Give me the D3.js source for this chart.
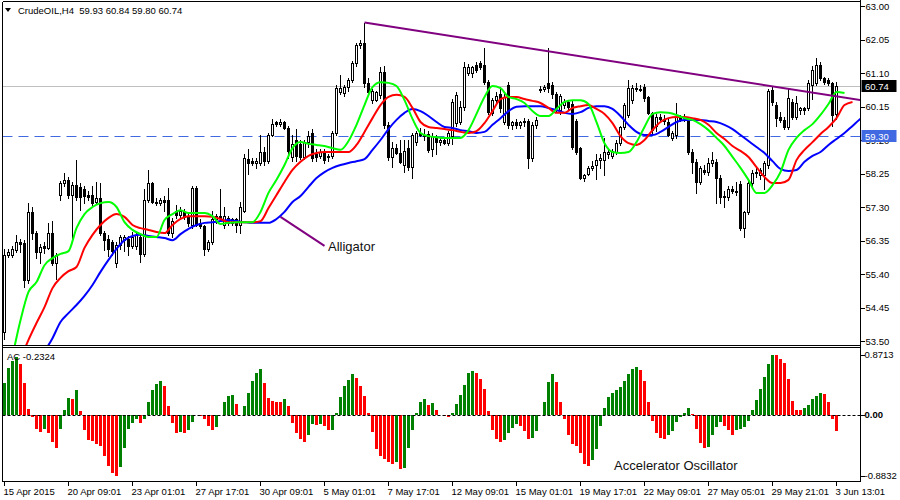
<!DOCTYPE html>
<html><head><meta charset="utf-8">
<script src="https://cdn.jsdelivr.net/npm/d3@7"></script>
<style>
html,body{margin:0;padding:0;background:#fff;}
svg{display:block;font-family:"Liberation Sans",Arial,sans-serif;}
text{white-space:pre;}
</style></head><body>
<svg id="c" width="900" height="500"></svg>
<script>
// ---------- DATA ----------
const headerText = "CrudeOIL,H4  59.93 60.84 59.80 60.74";
const openP = [53.75,55.95,55.95,56.08,56.30,56.28,55.23,57.16,56.56,56.02,56.20,56.14,56.56,55.71,57.64,57.98,58.07,57.64,57.92,57.87,
57.80,57.64,57.64,57.45,57.55,56.56,56.40,56.30,55.71,56.22,56.36,56.40,56.20,56.20,56.45,55.97,57.50,57.98,57.45,57.40,
57.50,57.50,56.56,57.20,57.07,57.16,57.02,56.80,57.85,56.85,56.75,56.10,56.30,56.95,57.05,56.80,57.00,56.85,56.95,56.80,
57.20,58.65,58.60,58.55,58.55,58.85,58.60,59.35,59.70,59.65,59.70,59.55,58.72,59.20,59.10,58.72,59.14,59.40,58.80,58.75,
58.86,58.72,58.75,59.40,60.55,60.53,60.70,60.90,61.38,61.89,61.95,60.82,60.33,60.33,60.48,61.13,59.63,58.72,58.97,58.83,
58.50,58.97,58.43,59.14,59.40,59.35,59.37,58.95,59.25,59.15,59.20,59.12,59.30,59.68,59.71,60.14,61.10,61.10,61.33,61.38,
61.33,60.84,59.97,60.33,60.50,59.71,60.76,59.63,59.70,59.63,59.70,59.75,58.69,59.63,60.62,60.65,60.82,60.76,60.50,60.05,
60.20,60.28,60.22,59.75,58.97,58.12,58.25,58.40,58.50,58.62,58.63,58.80,58.75,58.86,59.11,59.57,59.91,60.33,60.67,60.65,
60.70,60.42,59.97,59.60,59.85,59.80,59.71,59.26,59.34,59.85,59.82,59.75,58.86,58.58,58.01,58.35,58.30,58.55,58.58,58.12,
57.58,57.58,57.80,57.75,57.95,56.70,57.16,57.98,58.26,58.20,58.20,58.49,60.62,60.19,59.85,59.77,59.57,60.28,59.85,60.05,
60.10,60.11,60.75,60.82,61.33,60.96,60.90,60.82,59.93];
const highP = [56.10,56.10,56.20,56.50,56.38,56.35,57.40,57.30,56.62,56.25,56.30,56.85,56.90,56.00,58.05,58.27,58.15,58.00,58.62,57.98,
57.90,57.75,57.90,58.00,57.98,56.62,56.50,56.36,56.30,56.50,56.50,56.48,56.60,56.55,56.52,57.80,58.35,58.02,57.55,57.55,
57.60,57.85,57.00,57.35,57.30,57.25,57.10,57.90,57.90,56.95,56.80,56.35,57.20,57.10,57.80,57.30,57.05,57.00,57.00,57.45,
58.80,58.95,58.70,58.70,59.35,59.00,59.40,59.80,59.75,59.80,59.75,59.60,59.35,59.50,59.20,59.20,59.45,59.50,58.95,58.95,
58.95,58.80,59.45,60.76,61.04,60.75,60.95,61.45,61.95,62.05,62.53,60.96,60.65,60.60,61.27,61.30,59.70,59.14,59.10,59.20,
59.20,59.20,59.40,59.45,59.55,59.50,59.45,59.40,59.35,59.25,59.28,59.45,60.35,60.55,60.30,61.40,61.35,61.30,61.40,61.45,
61.81,60.90,60.40,60.55,60.70,60.50,60.85,59.75,59.80,59.75,59.82,59.80,59.70,59.85,60.72,60.75,61.81,60.85,60.55,60.50,
60.35,60.30,60.30,59.80,59.00,58.25,58.45,58.60,58.80,58.80,59.25,58.95,58.95,59.20,59.60,60.25,60.90,60.75,60.82,60.75,
60.80,60.45,60.00,59.95,59.95,59.90,59.80,59.45,60.25,59.90,59.95,59.85,58.95,58.65,58.45,58.50,58.70,58.85,58.65,58.20,
57.75,57.90,57.90,58.00,58.05,57.20,58.05,58.35,58.45,58.40,58.60,60.65,60.70,60.28,60.00,59.85,60.65,60.35,60.45,60.15,
60.15,60.90,61.30,61.53,61.40,61.00,60.95,60.85,60.84];
const lowP = [53.55,55.88,55.88,56.02,56.02,55.03,55.15,56.40,55.85,55.70,56.00,56.10,55.65,55.25,57.50,57.90,57.55,56.40,57.50,57.21,
57.40,57.50,57.35,57.40,56.50,56.08,55.90,55.95,55.60,56.10,56.05,55.95,56.15,56.10,55.75,55.92,57.45,57.40,57.35,57.35,
57.20,56.50,56.45,57.00,56.95,56.95,56.75,56.70,56.75,56.70,55.94,56.05,56.25,56.85,56.90,56.70,56.80,56.80,56.60,56.55,
57.15,58.25,58.50,58.40,58.50,58.50,58.55,59.30,59.60,59.60,59.50,58.70,58.60,58.60,58.65,58.65,59.00,58.60,58.60,58.70,
58.55,58.60,58.70,59.35,60.50,60.45,60.60,60.85,61.30,61.80,60.70,60.50,60.25,60.30,60.40,59.55,58.63,58.43,58.80,58.55,
58.30,58.35,58.12,59.05,59.30,59.20,58.85,58.75,58.80,59.05,59.08,59.05,59.10,59.60,59.65,60.05,61.05,61.00,61.12,61.20,
60.78,59.95,59.90,60.25,60.00,59.65,59.55,59.50,59.55,59.55,59.60,58.41,58.60,59.55,60.55,60.58,60.55,60.40,60.00,59.95,
60.10,60.05,58.95,58.80,58.10,58.05,58.20,58.35,58.10,58.40,58.20,58.70,58.70,58.80,59.05,59.50,59.85,60.25,60.60,60.58,
60.30,59.95,59.40,59.45,59.75,59.65,59.30,59.20,59.25,59.75,59.75,58.80,58.26,57.70,57.95,58.25,58.20,58.45,57.41,57.41,
57.30,57.50,57.70,57.65,56.65,56.45,57.10,57.90,58.15,58.10,57.80,58.40,60.20,59.60,59.70,59.50,59.50,59.80,59.80,59.95,
59.95,60.05,60.35,60.75,60.90,60.80,60.75,59.60,59.80];
const closeP = [55.95,56.02,56.10,56.30,56.25,55.23,57.16,56.56,56.02,56.17,56.14,56.56,55.71,55.94,57.98,58.07,57.64,57.92,57.58,57.58,
57.62,57.58,57.41,57.55,56.56,56.36,56.11,56.05,56.22,56.45,56.45,56.20,56.45,56.50,55.97,57.50,57.98,57.45,57.40,57.50,
57.45,56.56,56.90,57.07,57.20,57.02,56.85,57.85,56.80,56.75,56.10,56.30,56.95,57.05,57.00,57.05,56.85,56.95,56.80,57.30,
58.70,58.55,58.55,58.60,58.85,58.60,59.35,59.65,59.65,59.70,59.55,58.90,59.10,58.75,58.72,59.14,59.30,58.69,58.72,58.86,
58.63,58.75,59.40,60.67,60.67,60.70,60.90,61.38,61.89,61.95,60.82,60.56,60.60,60.55,61.13,59.63,58.72,58.97,58.83,58.58,
58.90,58.43,59.34,59.40,59.35,59.30,58.92,59.30,59.15,59.20,59.12,59.40,60.28,60.48,60.14,61.27,61.27,61.27,61.18,61.27,
60.84,59.99,60.33,60.45,60.10,60.42,59.63,59.70,59.63,59.70,59.75,58.69,59.63,59.77,60.65,60.70,60.67,60.50,60.10,60.45,
60.28,60.15,59.00,58.85,58.12,58.20,58.40,58.45,58.62,58.70,58.86,58.86,58.90,59.11,59.57,60.19,60.67,60.67,60.65,60.62,
60.39,59.97,59.48,59.85,59.80,59.75,59.34,59.40,59.85,59.80,59.85,58.86,58.58,58.01,58.41,58.30,58.55,58.62,58.12,57.58,
57.62,57.80,57.75,57.72,56.70,57.16,57.98,58.26,58.30,58.35,58.55,60.60,60.28,59.82,59.77,59.57,60.39,59.85,60.25,60.10,
60.05,60.82,61.18,61.33,60.96,60.84,60.82,59.91,60.74];

// Alligator (sampled every 2 bars, starting at bar 0; lines are shifted forward past the last bar)
const jawBlue = [51.12,51.49,51.88,52.31,52.73,53.19,53.58,54.04,54.29,54.52,
54.78,55.09,55.46,55.80,56.11,56.36,56.48,56.51,56.48,56.45,
56.42,56.36,56.53,56.68,56.79,56.85,56.87,56.90,56.93,56.90,
56.87,56.85,56.85,56.85,56.96,57.16,57.44,57.61,57.87,58.12,
58.29,58.41,58.49,58.55,58.60,58.66,58.92,59.20,59.51,59.77,
59.97,60.08,60.02,59.88,59.71,59.57,59.54,59.48,59.45,59.40,
59.43,59.63,59.82,60.02,60.14,60.16,60.16,60.16,60.11,60.05,
59.97,59.94,59.99,60.11,60.16,60.16,60.08,59.88,59.63,59.43,
59.34,59.34,59.43,59.57,59.71,59.77,59.77,59.77,59.74,59.71,
59.63,59.51,59.34,59.17,59.00,58.83,58.60,58.38,58.32,58.35,
58.58,58.75,58.86,59.06,59.23,59.40,59.60,59.80,59.97];
const teethRed = [51.54,52.25,52.96,53.53,54.01,54.46,55.00,55.29,55.48,55.60,
56.14,56.51,56.79,56.99,57.10,57.02,56.79,56.70,56.65,56.59,
56.56,56.79,56.96,57.04,57.04,57.04,57.02,56.96,56.87,56.87,
56.87,56.87,56.90,57.27,57.64,58.01,58.35,58.58,58.75,58.83,
58.86,58.86,58.86,58.86,59.06,59.43,59.82,60.19,60.42,60.48,
60.42,60.11,59.71,59.57,59.54,59.51,59.48,59.43,59.40,59.45,
59.68,60.02,60.36,60.42,60.42,60.36,60.31,60.25,60.11,59.97,
59.97,60.11,60.16,60.19,60.08,59.94,59.68,59.31,59.11,59.06,
59.20,59.48,59.71,59.82,59.85,59.85,59.82,59.77,59.63,59.40,
59.23,59.03,58.89,58.72,58.43,58.15,57.98,57.98,58.07,58.63,
58.92,59.14,59.37,59.57,59.82,60.19,60.28];
const lipsGreen = [52.25,53.10,54.09,54.89,55.17,55.65,55.85,55.97,56.05,56.70,
57.10,57.30,57.41,57.44,57.30,56.87,56.65,56.53,56.45,56.45,
56.93,57.10,57.21,57.13,57.13,57.13,57.04,56.82,56.85,56.87,
56.87,56.87,57.16,57.70,58.07,58.49,58.97,59.14,59.09,59.06,
59.03,58.97,58.92,59.17,59.63,60.19,60.70,60.84,60.82,60.73,
60.33,59.80,59.40,59.31,59.28,59.26,59.26,59.26,59.48,59.94,
60.42,60.73,60.67,60.42,60.36,60.25,60.02,59.88,59.88,60.08,
60.28,60.33,60.33,60.22,59.71,59.11,58.86,58.83,58.86,59.14,
59.57,59.94,59.99,59.97,59.91,59.82,59.77,59.65,59.48,59.26,
59.03,58.72,58.41,58.07,57.70,57.70,57.92,58.29,58.92,59.26,
59.48,59.65,59.91,60.22,60.56,60.53];

// Accelerator Oscillator, one value per bar
const acValues = [0.456,0.67,0.77,0.84,0.74,0.456,0.08,-0.04,-0.21,-0.25,
-0.21,-0.26,-0.40,-0.48,-0.21,0.07,0.24,0.23,0.36,0.05,
-0.23,-0.37,-0.38,-0.43,-0.45,-0.60,-0.74,-0.84,-0.8832,-0.76,
-0.48,-0.21,-0.12,-0.06,-0.12,-0.07,0.18,0.35,0.44,0.49,
0.42,0.13,-0.12,-0.26,-0.25,-0.27,-0.23,-0.11,-0.01,-0.02,
-0.07,-0.17,-0.23,-0.18,0.00,0.18,0.27,0.28,0.16,0.00,
0.13,0.32,0.48,0.61,0.66,0.456,0.24,0.19,0.185,0.18,
0.22,0.13,-0.12,-0.26,-0.36,-0.40,-0.30,-0.14,-0.15,-0.14,
-0.16,-0.23,-0.22,0.03,0.26,0.41,0.50,0.59,0.53,0.41,
0.27,0.02,-0.25,-0.50,-0.60,-0.65,-0.69,-0.71,-0.69,-0.79,
-0.77,-0.48,-0.22,0.03,0.18,0.22,0.14,0.17,0.06,-0.01,
-0.02,-0.04,0.03,0.15,0.29,0.43,0.61,0.63,0.61,0.51,
0.37,0.05,-0.22,-0.35,-0.40,-0.37,-0.27,-0.19,-0.14,-0.16,
-0.24,-0.35,-0.34,-0.24,-0.01,0.18,0.47,0.59,0.47,0.18,
-0.06,-0.29,-0.42,-0.46,-0.55,-0.71,-0.74,-0.66,-0.50,-0.16,
0.10,0.25,0.32,0.36,0.40,0.48,0.59,0.66,0.69,0.64,
0.49,0.18,-0.10,-0.27,-0.34,-0.35,-0.30,-0.24,-0.11,-0.03,
0.03,0.09,0.01,-0.21,-0.41,-0.49,-0.47,-0.29,-0.18,-0.11,
-0.16,-0.23,-0.30,-0.22,-0.21,-0.18,-0.10,0.06,0.21,0.37,
0.54,0.73,0.8713,0.86,0.80,0.75,0.51,0.20,0.07,0.06,
0.10,0.14,0.22,0.27,0.32,0.30,0.18,-0.06,-0.2324];
const acLabel = "AC -0.2324";
const acScaleLabels = [0.8713, 0.00, -0.8832];

const priceTicks = [63.00,62.05,61.10,60.15,59.20,58.25,57.30,56.35,55.40,54.45,53.50];
const timeTickBars = [0,16,32,48,64,80,96,112,128,144,160,176,192,208];
const timeTickLabels = ["15 Apr 2015","20 Apr 09:01","23 Apr 01:01","27 Apr 17:01","30 Apr 09:01","5 May 01:01","7 May 17:01","12 May 09:01","15 May 01:01","19 May 17:01","22 May 09:01","27 May 05:01","29 May 21:01","3 Jun 13:01"];
const bidPrice = 60.74;
const levelPrice = 59.30;
const trendBars = [90, 208];
const trendPrices = [62.53, 60.44];
const noteBars = [69, 80];
const notePrices = [57.02, 56.20];
const noteText = "Alligator";
const acNoteText = "Accelerator Oscillator";
const acNoteBar = 152.4, acNoteValue = -0.80;

// ---------- LAYOUT ----------
const svg = d3.select("#c");
const W = 900, H = 500;
const L = 2.5, R = 860.5, mainTop = 1.5, mainBot = 345.5, acTop = 347.5, acBot = 481.5;
const x = d3.scaleLinear().domain([0, 208]).range([4.5, 836.5]);
const y = d3.scaleLinear().domain([53.5, 63]).range([341, 6]);
const ya = d3.scaleLinear().domain([-0.8832, 0.8713]).range([475.5, 354.5]);
const BLACK = "#000";

svg.append("rect").attr("width", W).attr("height", H).attr("fill", "#fff");

const defs = svg.append("defs");
defs.append("clipPath").attr("id", "clipMain").append("rect")
  .attr("x", 3).attr("y", 2).attr("width", R - 3.5).attr("height", mainBot - 2.5);
defs.append("clipPath").attr("id", "clipAc").append("rect")
  .attr("x", 3).attr("y", acTop + 0.5).attr("width", R - 3.5).attr("height", acBot - acTop - 1);

const main = svg.append("g").attr("clip-path", "url(#clipMain)");

// bid line and level line
main.append("line").attr("x1", L).attr("x2", R)
  .attr("y1", Math.round(y(bidPrice)) + 0.5).attr("y2", Math.round(y(bidPrice)) + 0.5)
  .attr("stroke", "#c0c0c0").attr("stroke-width", 1);
main.append("line").attr("x1", L).attr("x2", R)
  .attr("y1", Math.round(y(levelPrice)) + 0.5).attr("y2", Math.round(y(levelPrice)) + 0.5)
  .attr("stroke", "#4169E1").attr("stroke-width", 1).attr("stroke-dasharray", "10,6");

// candles
const bars = d3.range(openP.length).map(i => ({i, o: openP[i], h: highP[i], l: lowP[i], c: closeP[i]}));
const cg = main.append("g").attr("shape-rendering", "crispEdges");
cg.selectAll("line.wick").data(bars).join("line")
  .attr("x1", d => x(d.i)).attr("x2", d => x(d.i))
  .attr("y1", d => Math.round(y(d.h))).attr("y2", d => Math.round(y(d.l)) + 1)
  .attr("stroke", BLACK).attr("stroke-width", 1);
cg.selectAll("rect.body").data(bars).join("rect")
  .attr("x", d => d.c >= d.o ? x(d.i) - 1 : x(d.i) - 1.5)
  .attr("width", d => d.c >= d.o ? 2 : 3)
  .attr("y", d => {
    const t = Math.round(y(Math.max(d.o, d.c)));
    return d.c >= d.o ? t + 0.5 : t;
  })
  .attr("height", d => {
    const t = Math.round(y(Math.max(d.o, d.c))), b = Math.round(y(Math.min(d.o, d.c)));
    return d.c >= d.o ? Math.max(b - t, 1) : Math.max(b - t + 1, 1);
  })
  .attr("fill", d => d.c >= d.o ? "#fff" : BLACK)
  .attr("stroke", d => d.c >= d.o ? BLACK : "none")
  .attr("stroke-width", 1);

// alligator
function drawLine(vals, color) {
  const line = d3.line().x((d, k) => x(k * 2)).y(d => y(d)).curve(d3.curveMonotoneX);
  main.append("path").attr("d", line(vals)).attr("fill", "none")
    .attr("stroke", color).attr("stroke-width", 2).attr("stroke-linejoin", "round");
}
drawLine(jawBlue, "#0000ff");
drawLine(teethRed, "#ff0000");
drawLine(lipsGreen, "#00ff00");

// trend line (ray to the right edge)
const slope = (trendPrices[1] - trendPrices[0]) / (trendBars[1] - trendBars[0]);
const endBar = x.invert(R);
main.append("line")
  .attr("x1", x(trendBars[0])).attr("y1", y(trendPrices[0]))
  .attr("x2", R).attr("y2", y(trendPrices[0] + slope * (endBar - trendBars[0])))
  .attr("stroke", "#800080").attr("stroke-width", 2);

// alligator note
main.append("line")
  .attr("x1", x(noteBars[0])).attr("y1", y(notePrices[0]))
  .attr("x2", x(noteBars[1])).attr("y2", y(notePrices[1]))
  .attr("stroke", "#800080").attr("stroke-width", 2);
svg.append("text").attr("x", x(noteBars[1]) + 3.5).attr("y", y(notePrices[1]) + 5.5)
  .attr("font-size", 13).attr("fill", "#111").text(noteText);

// header
svg.append("path").attr("d", "M5,8 L11,8 L8,12 Z").attr("fill", BLACK);
svg.append("text").attr("x", 18).attr("y", 14).attr("font-size", 9.5).attr("fill", BLACK).text(headerText);

// ---------- AC panel ----------
const acg = svg.append("g").attr("clip-path", "url(#clipAc)").attr("shape-rendering", "crispEdges");
const zeroY = Math.round(ya(0));
acg.selectAll("rect").data(acValues.map((v, i) => ({v, i}))).join("rect")
  .attr("x", d => x(d.i) - 1.5).attr("width", 3)
  .attr("y", d => d.v >= 0 ? Math.round(ya(d.v)) : zeroY)
  .attr("height", d => Math.abs(Math.round(ya(d.v)) - zeroY))
  .attr("fill", d => (d.i === 0 || d.v > acValues[d.i - 1]) ? "#008000" : "#ff0000");
svg.append("line").attr("x1", L).attr("x2", R).attr("y1", zeroY + 0.5).attr("y2", zeroY + 0.5)
  .attr("stroke", BLACK).attr("stroke-width", 1).attr("stroke-dasharray", "3,2");
svg.append("text").attr("x", 7).attr("y", 360).attr("font-size", 9.5).attr("fill", BLACK).text(acLabel);
svg.append("text").attr("x", x(acNoteBar)).attr("y", ya(acNoteValue))
  .attr("font-size", 13).attr("fill", "#111").text(acNoteText);

// ---------- frames ----------
const fr = svg.append("g").attr("stroke", BLACK).attr("stroke-width", 1).attr("shape-rendering", "crispEdges");
fr.append("line").attr("x1", L).attr("x2", R).attr("y1", mainTop).attr("y2", mainTop);
fr.append("line").attr("x1", L).attr("x2", R).attr("y1", mainBot).attr("y2", mainBot);
fr.append("line").attr("x1", L).attr("x2", R).attr("y1", acTop).attr("y2", acTop);
fr.append("line").attr("x1", L).attr("x2", R).attr("y1", acBot).attr("y2", acBot);
fr.append("line").attr("x1", L).attr("x2", L).attr("y1", mainTop).attr("y2", acBot);
fr.append("line").attr("x1", R).attr("x2", R).attr("y1", 0).attr("y2", acBot);

// ---------- axes ----------
const priceAxis = d3.axisRight(y).tickValues(priceTicks).tickFormat(d3.format(".2f")).tickSize(4).tickPadding(1);
const pa = svg.append("g").attr("transform", `translate(${R},0)`).call(priceAxis);
pa.select(".domain").remove();
pa.selectAll("text").attr("font-size", 9.5).attr("font-family", "Liberation Sans, Arial, sans-serif").attr("fill", BLACK);
pa.selectAll("line").attr("stroke", BLACK).attr("shape-rendering", "crispEdges");

// price marker boxes (drawn over the axis, as in the terminal)
function priceBox(p, fill) {
  const cy = Math.round(y(p));
  svg.append("rect").attr("x", R + 1).attr("y", cy - 6).attr("width", 35).attr("height", 12).attr("fill", fill);
  svg.append("text").attr("x", R + 4.5).attr("y", cy + 3.5).attr("font-size", 9.5).attr("fill", "#fff").text(p.toFixed(2));
}
priceBox(levelPrice, "#4169E1");
priceBox(bidPrice, "#000");

const acAxis = d3.axisRight(ya).tickValues(acScaleLabels).tickFormat(d => d === 0 ? "0.00" : d.toFixed(4)).tickSize(4).tickPadding(0);
const aa = svg.append("g").attr("transform", `translate(${R},0)`).call(acAxis);
aa.select(".domain").remove();
aa.selectAll("text").attr("font-size", 9.5).attr("font-family", "Liberation Sans, Arial, sans-serif").attr("fill", BLACK)
  .attr("font-weight", d => d === 0 ? "bold" : "normal");
aa.selectAll("line").attr("stroke", BLACK).attr("shape-rendering", "crispEdges");

const timeAxis = d3.axisBottom(x).tickValues(timeTickBars).tickFormat((d, k) => timeTickLabels[k]).tickSize(4).tickPadding(3);
const ta = svg.append("g").attr("transform", `translate(-1,${acBot})`).call(timeAxis);
ta.select(".domain").remove();
ta.selectAll("text").attr("font-size", 9.5).attr("font-family", "Liberation Sans, Arial, sans-serif")
  .attr("fill", BLACK).attr("text-anchor", "start").attr("x", -0.5);
ta.selectAll("line").attr("stroke", BLACK).attr("shape-rendering", "crispEdges");
</script>
</body></html>
